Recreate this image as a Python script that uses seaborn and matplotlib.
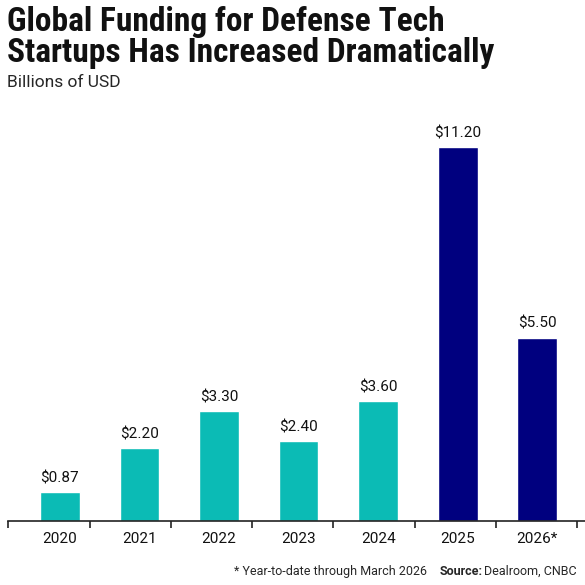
import matplotlib.pyplot as plt
import seaborn as sns
import pandas as pd
import numpy as np

years = ['2020', '2021', '2022', '2023', '2024', '2025', '2026*']
funding = [0.87, 2.20, 3.30, 2.40, 3.60, 11.20, 5.50]
labels = ['$0.87', '$2.20', '$3.30', '$2.40', '$3.60', '$11.20', '$5.50']

teal = '#0BBBB5'
navy = '#00007F'
colors = [teal] * 5 + [navy] * 2

sns.set_style("white")
plt.rcParams['font.family'] = ['Roboto', 'DejaVu Sans']

df = pd.DataFrame({'year': years, 'funding': funding})

fig = plt.figure(figsize=(5.85, 5.85), dpi=100)
ax = fig.add_axes([0.014, 0.109, 0.986, 0.685])
sns.barplot(data=df, x='year', y='funding', hue='year', palette=colors,
            width=0.5, legend=False, ax=ax, saturation=1)

for i, (v, t) in enumerate(zip(funding, labels)):
    ax.text(i, v + 0.2, t, ha='center', va='bottom', fontsize=11, color='#111111')

ax.set_xlim(-0.65, 6.6)
ax.set_ylim(0, 12)
ax.set_xlabel('')
ax.set_ylabel('')
ax.set_yticks([])
for s in ['top', 'right', 'left']:
    ax.spines[s].set_visible(False)
ax.spines['bottom'].set_color('#222222')
ax.spines['bottom'].set_linewidth(1.2)
ax.tick_params(axis='x', which='major', length=0, labelsize=11, pad=8, colors='#111111')
ax.set_xticks(np.arange(-0.65, 6.7, 1.022), minor=True)
ax.tick_params(axis='x', which='minor', bottom=True, length=5, width=1.2,
               color='#222222', direction='out')

fig.text(0.012, 0.99, 'Global Funding for Defense Tech\nStartups Has Increased Dramatically',
         fontsize=24, fontweight='black', va='top', ha='left', linespacing=0.95, color='#111111',
         family=['Roboto Condensed', 'Liberation Sans Narrow', 'Roboto', 'DejaVu Sans'])
fig.text(0.012, 0.872, 'Billions of USD', fontsize=12.5, va='top', ha='left')
fig.text(0.40, 0.012, '* Year-to-date through March 2026', fontsize=9, ha='left', va='bottom')
fig.text(0.985, 0.012, 'Dealroom, CNBC', fontsize=9, ha='right', va='bottom')
fig.text(0.752, 0.012, 'Source:', fontsize=9, ha='left', va='bottom', fontweight='bold')

fig.savefig('out.png', dpi=100)
